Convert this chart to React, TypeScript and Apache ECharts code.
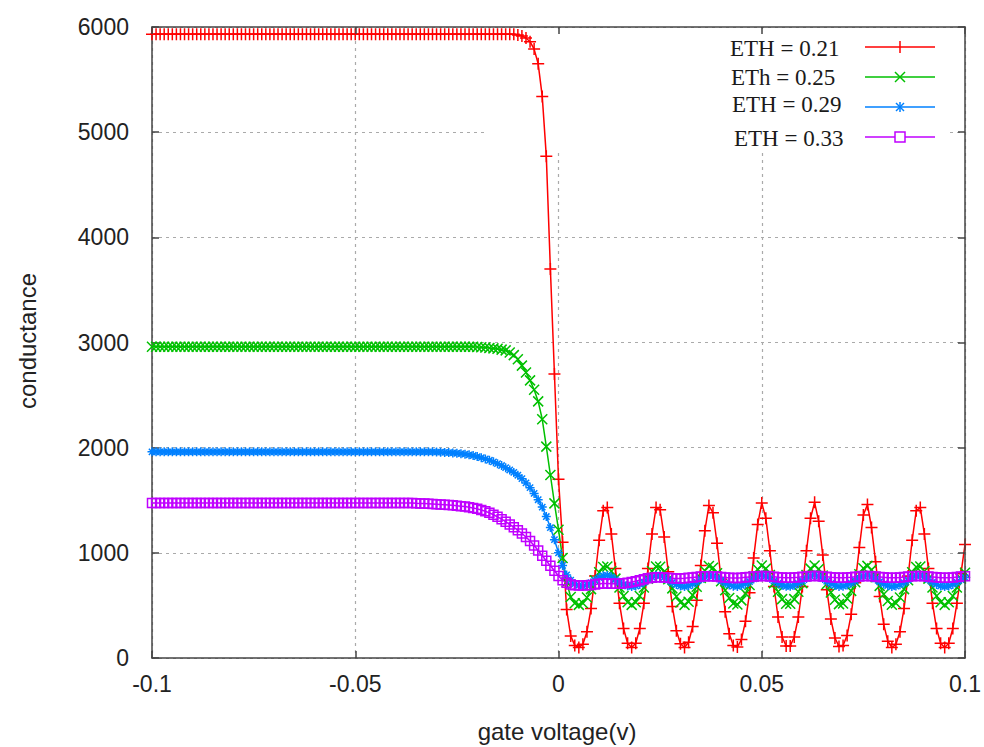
import React, { useEffect, useRef } from "react";
import * as echarts from "echarts";

// sampling of gate voltage (V)
const xStart = -0.1;
const xStep = 0.001;

// ETH = 0.21
const red = [
  5930, 5930, 5930, 5930, 5930, 5930, 5930, 5930, 5930, 5930,
  5930, 5930, 5930, 5930, 5930, 5930, 5930, 5930, 5930, 5930,
  5930, 5930, 5930, 5930, 5930, 5930, 5930, 5930, 5930, 5930,
  5930, 5930, 5930, 5930, 5930, 5930, 5930, 5930, 5930, 5930,
  5930, 5930, 5930, 5930, 5930, 5930, 5930, 5930, 5930, 5930,
  5930, 5930, 5930, 5930, 5930, 5930, 5930, 5930, 5930, 5930,
  5930, 5930, 5930, 5930, 5930, 5930, 5930, 5930, 5930, 5930,
  5930, 5930, 5930, 5930, 5930, 5930, 5930, 5930, 5930, 5930,
  5930, 5930, 5930, 5930, 5930, 5930, 5930, 5930, 5930, 5930,
  5925, 5915, 5895, 5860, 5790, 5650, 5340, 4770, 3700, 2700,
  1700, 1100, 460, 210, 120, 100, 130, 250, 470, 780,
  1120, 1400, 1430, 1180, 850, 520, 280, 140, 100, 140,
  280, 520, 850, 1180, 1430, 1410, 1150, 820, 490, 260,
  135, 100, 150, 300, 550, 880, 1210, 1450, 1380, 1090,
  750, 440, 230, 120, 105, 175, 350, 620, 950, 1270,
  1475, 1330, 1020, 680, 390, 200, 115, 115, 200, 390,
  680, 1020, 1330, 1480, 1300, 980, 650, 370, 190, 110,
  118, 215, 415, 715, 1050, 1360, 1460, 1240, 915, 585,
  320, 160, 100, 130, 250, 470, 780, 1120, 1400, 1430,
  1180, 850, 520, 280, 140, 100, 140, 280, 520, 800,
  1080,
];

// ETh = 0.25
const green = [
  2960, 2960, 2960, 2960, 2960, 2960, 2960, 2960, 2960, 2960,
  2960, 2960, 2960, 2960, 2960, 2960, 2960, 2960, 2960, 2960,
  2960, 2960, 2960, 2960, 2960, 2960, 2960, 2960, 2960, 2960,
  2960, 2960, 2960, 2960, 2960, 2960, 2960, 2960, 2960, 2960,
  2960, 2960, 2960, 2960, 2960, 2960, 2960, 2960, 2960, 2960,
  2960, 2960, 2960, 2960, 2960, 2960, 2960, 2960, 2960, 2960,
  2960, 2960, 2960, 2960, 2960, 2960, 2960, 2960, 2960, 2960,
  2960, 2960, 2960, 2960, 2960, 2960, 2960, 2960, 2960, 2960,
  2958, 2955, 2952, 2948, 2944, 2940, 2932, 2925, 2905, 2880,
  2840, 2780, 2715, 2640, 2550, 2440, 2270, 2010, 1740, 1470,
  1220, 950, 720, 580, 520, 505, 520, 575, 655, 740,
  815, 865, 870, 825, 755, 670, 590, 530, 505, 530,
  590, 670, 755, 825, 870, 868, 820, 748, 662, 584,
  527, 505, 535, 598, 678, 762, 830, 874, 858, 805,
  730, 645, 570, 518, 508, 548, 614, 695, 776, 843,
  879, 850, 790, 712, 630, 560, 515, 515, 560, 630,
  712, 790, 850, 880, 846, 783, 703, 622, 554, 512,
  518, 565, 638, 721, 797, 854, 876, 838, 769, 686,
  606, 542, 507, 520, 575, 655, 740, 815, 865, 870,
  825, 755, 670, 590, 530, 505, 530, 590, 670, 755,
  810,
];

// ETH = 0.29
const blue = [
  1960, 1960, 1960, 1960, 1960, 1960, 1960, 1960, 1960, 1960,
  1960, 1960, 1960, 1960, 1960, 1960, 1960, 1960, 1960, 1960,
  1960, 1960, 1960, 1960, 1960, 1960, 1960, 1960, 1960, 1960,
  1960, 1960, 1960, 1960, 1960, 1960, 1960, 1960, 1960, 1960,
  1960, 1960, 1960, 1960, 1960, 1960, 1960, 1960, 1960, 1960,
  1960, 1960, 1960, 1960, 1960, 1960, 1960, 1960, 1960, 1960,
  1960, 1960, 1960, 1960, 1960, 1960, 1960, 1960, 1960, 1960,
  1958, 1957, 1955, 1953, 1950, 1947, 1943, 1938, 1932, 1925,
  1915, 1905, 1893, 1880, 1865, 1848, 1830, 1810, 1788, 1765,
  1738, 1705, 1665, 1620, 1565, 1505, 1435, 1345, 1240, 1125,
  1000, 880, 790, 740, 705, 690, 684, 697, 716, 740,
  765, 782, 785, 770, 745, 720, 700, 685, 680, 685,
  700, 720, 745, 770, 785, 784, 768, 742, 718, 698,
  684, 680, 686, 702, 722, 748, 772, 787, 780, 762,
  737, 714, 695, 683, 681, 689, 706, 727, 752, 775,
  789, 778, 757, 732, 710, 692, 682, 682, 692, 710,
  732, 757, 778, 790, 776, 755, 730, 708, 690, 681,
  683, 694, 712, 735, 760, 779, 788, 774, 750, 725,
  704, 688, 680, 684, 697, 716, 740, 765, 782, 785,
  770, 745, 720, 700, 685, 680, 685, 700, 720, 745,
  765,
];

// ETH = 0.33
const purple = [
  1475, 1475, 1475, 1475, 1475, 1475, 1475, 1475, 1475, 1475,
  1475, 1475, 1475, 1475, 1475, 1475, 1475, 1475, 1475, 1475,
  1475, 1475, 1475, 1475, 1475, 1475, 1475, 1475, 1475, 1475,
  1475, 1475, 1475, 1475, 1475, 1475, 1475, 1475, 1475, 1475,
  1475, 1475, 1475, 1475, 1475, 1475, 1475, 1475, 1475, 1475,
  1475, 1475, 1475, 1475, 1475, 1475, 1475, 1475, 1475, 1475,
  1475, 1475, 1475, 1475, 1475, 1472, 1470, 1468, 1466, 1464,
  1462, 1460, 1458, 1455, 1452, 1448, 1444, 1440, 1434, 1427,
  1418, 1407, 1395, 1380, 1362, 1342, 1320, 1296, 1270, 1243,
  1215, 1184, 1150, 1112, 1070, 1022, 972, 925, 878, 830,
  780, 740, 715, 700, 692, 690, 690, 692, 695, 700,
  705, 708, 708, 706, 705, 706, 710, 716, 722, 730,
  740, 750, 758, 764, 768, 768, 766, 762, 758, 756,
  756, 758, 762, 766, 770, 774, 777, 778, 777, 774,
  770, 766, 763, 761, 761, 763, 767, 771, 775, 778,
  780, 779, 776, 772, 768, 765, 763, 763, 765, 768,
  772, 776, 779, 780, 779, 776, 772, 768, 765, 763,
  763, 765, 768, 772, 776, 779, 780, 778, 775, 771,
  767, 764, 763, 764, 766, 770, 774, 777, 779, 780,
  778, 775, 771, 767, 764, 763, 764, 766, 770, 774,
  777,
];

const seriesNames = ["ETH = 0.21", "ETh = 0.25", "ETH = 0.29", "ETH = 0.33"];
const seriesColors = ["#ff0000", "#00c000", "#0080ff", "#c000ff"];
const xTicks = { min: -0.1, max: 0.1, interval: 0.05 };
const yTicks = { min: 0, max: 6000, interval: 1000 };
const xTitle = "gate voltage(v)";
const yTitle = "conductance";

const SYM_PLUS = "path://M0,5L10,5M5,0L5,10";
const SYM_CROSS = "path://M0,0L10,10M10,0L0,10";
const SYM_STAR = "path://M0,5L10,5M5,0L5,10M1.5,1.5L8.5,8.5M8.5,1.5L1.5,8.5";
const SYM_SQUARE = "path://M0,0L10,0L10,10L0,10Z";

const xValues = red.map((_, i) => +(xStart + i * xStep).toFixed(3));

export default function App() {
  const ref = useRef<HTMLDivElement>(null);

  useEffect(() => {
    if (!ref.current) return;
    const chart = echarts.init(ref.current, null, { renderer: "svg" });

    const axisCol = "#444444";
    const gridLine = { show: true, lineStyle: { color: "#aaaaaa", type: [3, 4], width: 1.2 } };
    const labelFont = { fontFamily: "Liberation Sans", fontSize: 23, color: "#222222" };

    const mk = (idx: number, values: number[], symbol: string, size: number) => ({
      type: "line",
      name: seriesNames[idx],
      data: xValues.map((x, i) => [x, values[i]]),
      symbol,
      symbolSize: size,
      showSymbol: true,
      clip: false,
      silent: true,
      z: 2,
      lineStyle: { color: seriesColors[idx], width: 1.5 },
      itemStyle: { color: "rgba(0,0,0,0)", borderColor: seriesColors[idx], borderWidth: 1.5 },
      emphasis: { disabled: true },
    });

    const legendRows = [48, 77, 104, 138];
    const legendTextX = [730, 731, 732, 734];
    const lineYs = [47, 77, 107, 137];
    const graphics: any[] = [
      // key area clears the grid (as gnuplot does)
      { type: "rect", z: 1, shape: { x: 487, y: 29, width: 461, height: 122 }, style: { fill: "#ffffff" }, silent: true },
      {
        type: "text", z: 10, x: 27, y: 341, rotation: Math.PI / 2,
        style: { text: yTitle, fontFamily: "Liberation Sans", fontSize: 24, fill: "#222222", align: "center", verticalAlign: "middle" },
      },
      {
        type: "text", z: 10, x: 557, y: 731,
        style: { text: xTitle, fontFamily: "Liberation Sans", fontSize: 24, fill: "#222222", align: "center", verticalAlign: "middle" },
      },
    ];
    seriesNames.forEach((name, k) => {
      graphics.push({
        type: "text", z: 10, x: legendTextX[k], y: legendRows[k],
        style: { text: name, fontFamily: "Liberation Serif", fontSize: 23, fill: "#1a1a1a", align: "left", verticalAlign: "middle" },
      });
      graphics.push({
        type: "line", z: 10, shape: { x1: 865, y1: lineYs[k], x2: 935, y2: lineYs[k] },
        style: { stroke: seriesColors[k], lineWidth: 1.5 },
      });
    });
    const cx = 900;
    // legend markers
    graphics.push({ type: "line", z: 11, shape: { x1: cx, y1: lineYs[0] - 6, x2: cx, y2: lineYs[0] + 6 }, style: { stroke: seriesColors[0], lineWidth: 1.5 } });
    graphics.push({ type: "line", z: 11, shape: { x1: cx - 5, y1: lineYs[1] - 5, x2: cx + 5, y2: lineYs[1] + 5 }, style: { stroke: seriesColors[1], lineWidth: 1.5 } });
    graphics.push({ type: "line", z: 11, shape: { x1: cx + 5, y1: lineYs[1] - 5, x2: cx - 5, y2: lineYs[1] + 5 }, style: { stroke: seriesColors[1], lineWidth: 1.5 } });
    graphics.push({ type: "line", z: 11, shape: { x1: cx, y1: lineYs[2] - 5, x2: cx, y2: lineYs[2] + 5 }, style: { stroke: seriesColors[2], lineWidth: 1.5 } });
    graphics.push({ type: "line", z: 11, shape: { x1: cx - 4, y1: lineYs[2] - 4, x2: cx + 4, y2: lineYs[2] + 4 }, style: { stroke: seriesColors[2], lineWidth: 1.5 } });
    graphics.push({ type: "line", z: 11, shape: { x1: cx + 4, y1: lineYs[2] - 4, x2: cx - 4, y2: lineYs[2] + 4 }, style: { stroke: seriesColors[2], lineWidth: 1.5 } });
    graphics.push({ type: "rect", z: 11, shape: { x: cx - 5, y: lineYs[3] - 5, width: 10, height: 10 }, style: { stroke: seriesColors[3], fill: "#ffffff", lineWidth: 1.5 } });

    const option: any = {
      animation: false,
      backgroundColor: "#ffffff",
      grid: { left: 152, right: 18, top: 27, bottom: 89, containLabel: false },
      xAxis: [
        {
          type: "value", position: "bottom", ...xTicks,
          axisLine: { show: true, onZero: false, lineStyle: { color: axisCol, width: 1.5 } },
          axisTick: { show: true, inside: true, length: 7, lineStyle: { color: axisCol, width: 1.5 } },
          axisLabel: { ...labelFont, margin: 14, formatter: (v: number) => String(+v.toFixed(3)) },
          splitLine: gridLine,
        },
        {
          type: "value", position: "top", ...xTicks, z: 3,
          axisLine: { show: true, onZero: false, lineStyle: { color: axisCol, width: 1.5 } },
          axisTick: { show: true, inside: true, length: 7, lineStyle: { color: axisCol, width: 1.5 } },
          axisLabel: { show: false },
          splitLine: { show: false },
        },
      ],
      yAxis: [
        {
          type: "value", position: "left", ...yTicks,
          axisLine: { show: true, onZero: false, lineStyle: { color: axisCol, width: 1.5 } },
          axisTick: { show: true, inside: true, length: 7, lineStyle: { color: axisCol, width: 1.5 } },
          axisLabel: { ...labelFont, margin: 23, formatter: (v: number) => String(v) },
          splitLine: gridLine,
        },
        {
          type: "value", position: "right", ...yTicks, z: 3,
          axisLine: { show: true, onZero: false, lineStyle: { color: axisCol, width: 1.5 } },
          axisTick: { show: true, inside: true, length: 7, lineStyle: { color: axisCol, width: 1.5 } },
          axisLabel: { show: false },
          splitLine: { show: false },
        },
      ],
      series: [
        mk(0, red, SYM_PLUS, 12),
        mk(1, green, SYM_CROSS, 10),
        mk(2, blue, SYM_STAR, 9),
        mk(3, purple, SYM_SQUARE, 9),
      ],
      graphic: graphics,
    };

    chart.setOption(option);
    return () => chart.dispose();
  }, []);

  return (
    <div
      ref={ref}
      style={{ position: "fixed", left: 0, top: 0, width: 984, height: 747, background: "#ffffff" }}
    />
  );
}
